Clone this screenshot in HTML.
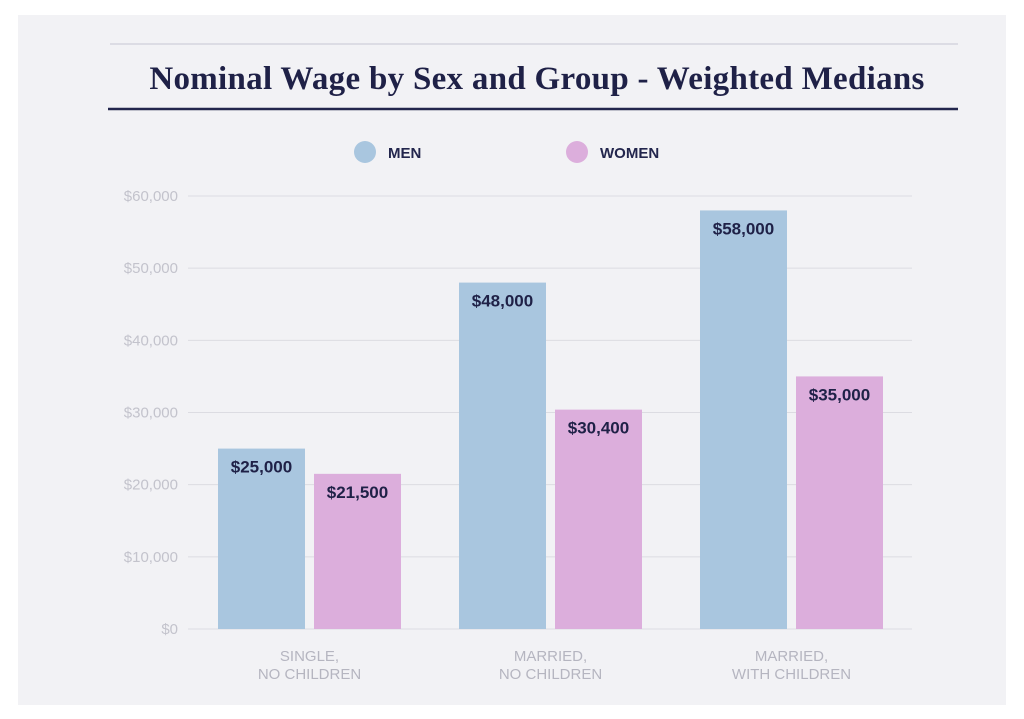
<!DOCTYPE html>
<html><head><meta charset="utf-8"><style>
body{margin:0;background:#fff;width:1024px;height:719px;overflow:hidden;font-family:"Liberation Sans",sans-serif}
#panel{position:absolute;left:18px;top:15px;width:988px;height:690px;background:#f2f2f5}
</style></head><body>
<div id="panel"></div>
<svg id="chart" width="1024" height="719" style="position:absolute;left:0;top:0">
<line x1="110" y1="44" x2="958" y2="44" stroke="#dcdce4" stroke-width="2"/>
<text x="537" y="89" text-anchor="middle" font-family="Liberation Serif,serif" font-weight="bold" font-size="33" letter-spacing="0.3" fill="#1f2147">Nominal Wage by Sex and Group - Weighted Medians</text>
<line x1="108" y1="109" x2="958" y2="109" stroke="#23264d" stroke-width="2.5"/>
<g>
<circle cx="365" cy="152" r="11" fill="#a9c6df"/>
<text x="388" y="158" font-size="15" font-weight="bold" fill="#23264d">MEN</text>
<circle cx="577" cy="152" r="11" fill="#dcaedc"/>
<text x="600" y="158" font-size="15" font-weight="bold" fill="#23264d">WOMEN</text>
</g>
<g id="grid"></g><g id="bars"></g>
</svg>
<script>
const categories=[["SINGLE,","NO CHILDREN"],["MARRIED,","NO CHILDREN"],["MARRIED,","WITH CHILDREN"]];
const menValues=[25000,48000,58000];
const womenValues=[21500,30400,35000];
const tickValues=[0,10000,20000,30000,40000,50000,60000];
const tickLabels=["$0","$10,000","$20,000","$30,000","$40,000","$50,000","$60,000"];
const NS="http://www.w3.org/2000/svg";
const y=v=>629-v*(433/60000);
const groupX=i=>218+i*241;
const fmt=v=>"$"+v.toLocaleString("en-US");
const grid=document.getElementById("grid"),bars=document.getElementById("bars");
function mk(tag,attrs,parent){const e=document.createElementNS(NS,tag);for(const k in attrs)e.setAttribute(k,attrs[k]);parent.appendChild(e);return e;}
tickValues.forEach((t,i)=>{
 const l=mk("line",{x1:188,x2:912,y1:y(t),y2:y(t),stroke:"#dcdce2","stroke-width":1},grid);
 
 
 const tx=mk("text",{x:178,y:y(t)+5,"text-anchor":"end","font-size":15,fill:"#c3c3cc"},grid);
 tx.textContent=tickLabels[i];
 
 
});
function bar(x,v,color,name){
 const r=mk("rect",{x:x,y:y(v),width:87,height:y(0)-y(v),fill:color},bars);
 
 
 const t=mk("text",{x:x+43.5,y:y(v)+24,"text-anchor":"middle","font-size":17,"font-weight":"bold",fill:"#1f2147"},bars);
 t.textContent=fmt(v);
 
 
}
categories.forEach((c,i)=>{
 const gx=groupX(i);
 bar(gx,menValues[i],"#a9c6df","bar-men");
 bar(gx+96,womenValues[i],"#dcaedc","bar-women");
 c.forEach((line,j)=>{
  const t=mk("text",{x:gx+91.5,y:661+j*18,"text-anchor":"middle","font-size":15,fill:"#b5b5c0"},bars);
  t.textContent=line;
  
  
 });
});
</script>
</body></html>
